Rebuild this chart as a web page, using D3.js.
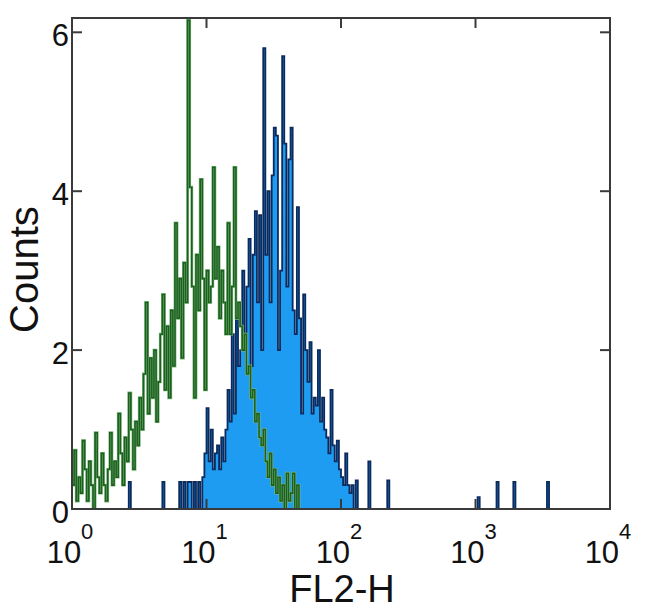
<!DOCTYPE html>
<html>
<head>
<meta charset="utf-8">
<script src="https://cdn.jsdelivr.net/npm/d3@7"></script>
<style>
  body { margin: 0; background: #fff; }
  svg text { font-family: "Liberation Sans", Arial, sans-serif; fill: #111; }
</style>
</head>
<body>
<div id="chart"></div>
<script>
// histogram channels: 64 per decade (256 over four decades), FL2-H from 10^0 to 10^4
var binsPerDecade = 64;
var xTicks = [0, 1, 2, 3, 4];          // exponents of 10
var yTicks = [0, 2, 4, 6];

// control (green), channels 0..108
var greenCounts = [
  0.3, 0.74, 0.1, 0.4, 0.2, 0.86, 0.5, 0.1, 0.6, 0.3, 0.0, 0.96, 0.4, 0.2, 0.7, 0.3,
  0.1, 0.5, 0.96, 0.3, 0.6, 0.4, 1.2, 0.7, 0.3, 0.9, 0.6, 1.46, 1.0, 0.5, 1.1, 0.8,
  1.4, 1.0, 1.7, 2.6, 1.2, 1.9, 1.4, 2.0, 1.1, 1.6, 2.2, 2.7, 1.5, 2.3, 1.4, 2.5,
  1.8, 3.6, 2.4, 2.9, 1.9, 3.1, 2.6, 6.15, 4.05, 2.8, 1.4, 3.2, 2.5, 4.15, 2.9, 1.5,
  3.0, 2.6, 2.8, 4.3, 2.9, 3.3, 2.4, 3.0, 2.6, 2.2, 3.6, 2.2, 2.8, 4.3, 2.4, 2.6,
  2.3, 2.0, 2.2, 1.7, 1.8, 1.4, 1.5, 1.1, 1.2, 0.9, 0.8, 1.0, 0.6, 0.4, 0.7, 0.3,
  0.5, 0.2, 0.4, 0.1, 0.3, 0.0, 0.45, 0.1, 0.2, 0.45, 0.0, 0.3, 0
];

// stained sample (blue), channels 0..239
var blueCounts = [
  0, 0, 0, 0, 0, 0, 0, 0, 0, 0, 0, 0, 0, 0, 0, 0,
  0, 0, 0, 0, 0, 0, 0, 0, 0, 0, 0, 0.34, 0, 0, 0, 0,
  0, 0, 0, 0, 0, 0, 0, 0, 0, 0, 0, 0.34, 0, 0, 0, 0,
  0, 0, 0, 0.34, 0, 0.34, 0, 0.34, 0.34, 0, 0.34, 0, 0.34, 0, 0.4, 0.7,
  1.27, 0.6, 1.0, 0.5, 0.7, 0.8, 0.5, 0.9, 0.6, 1.0, 1.5, 1.1, 2.2, 1.2, 2.6, 1.8,
  2.0, 3.0, 2.1, 2.8, 3.4, 1.8, 3.2, 3.75, 2.6, 3.7, 2.0, 5.8, 3.2, 4.0, 2.6, 4.2,
  4.8, 4.7, 2.0, 3.0, 5.7, 4.6, 2.8, 4.4, 4.8, 2.5, 2.2, 3.8, 2.4, 1.2, 2.7, 2.0,
  1.6, 2.1, 1.2, 1.4, 1.3, 2.0, 1.1, 1.4, 1.0, 0.9, 0.7, 1.5, 0.8, 0.6, 0.86, 0.5,
  0.4, 0.3, 0.7, 0.3, 0.2, 0.3, 0, 0.36, 0, 0, 0, 0, 0, 0.6, 0, 0,
  0, 0, 0, 0, 0, 0, 0.36, 0, 0, 0, 0, 0, 0, 0, 0, 0,
  0, 0, 0, 0, 0, 0, 0, 0, 0, 0, 0, 0, 0, 0, 0, 0,
  0, 0, 0, 0, 0, 0, 0, 0, 0, 0, 0, 0, 0, 0, 0, 0,
  0, 0.15, 0, 0, 0, 0, 0, 0, 0, 0, 0.34, 0, 0, 0, 0, 0,
  0, 0, 0.34, 0, 0, 0, 0, 0, 0, 0, 0, 0, 0, 0, 0, 0,
  0, 0, 0.34, 0, 0, 0, 0, 0, 0, 0, 0, 0, 0, 0, 0, 0
];

var width = 650, height = 615;
var margin = {top: 18, right: 40, bottom: 106, left: 72};
var innerW = width - margin.left - margin.right;
var innerH = height - margin.top - margin.bottom;

var x = d3.scaleLog().domain([1, 1e4]).range([0, innerW]);
var y = d3.scaleLinear().domain([0, 6.18]).range([innerH, 0]);

// turn counts into step points (bin start, value), plus closing edge
function steps(counts) {
  var pts = counts.map(function (c, i) {
    return {x: Math.pow(10, i / binsPerDecade), y: c};
  });
  pts.push({x: Math.pow(10, counts.length / binsPerDecade), y: counts[counts.length - 1]});
  return pts;
}

var svg = d3.select('#chart').append('svg')
  .attr('width', width)
  .attr('height', height);

svg.append('defs').append('clipPath').attr('id', 'plotClip')
  .append('rect').attr('width', innerW).attr('height', innerH);

var g = svg.append('g').attr('transform', 'translate(' + margin.left + ',' + margin.top + ')');
var plot = g.append('g').attr('clip-path', 'url(#plotClip)');

// blue filled histogram
var area = d3.area()
  .curve(d3.curveStepAfter)
  .x(function (d) { return x(d.x); })
  .y0(y(0))
  .y1(function (d) { return y(d.y); });

plot.append('path')
  .datum(steps(blueCounts))
  .attr('d', area)
  .attr('fill', '#1e9cf2')
  .attr('stroke', '#0b2a5e')
  .attr('stroke-width', 1.8);

// green control line
var line = d3.line()
  .curve(d3.curveStepAfter)
  .x(function (d) { return x(d.x); })
  .y(function (d) { return y(d.y); });

var greenPts = steps(greenCounts);
plot.append('path')
  .datum(greenPts)
  .attr('d', line)
  .attr('fill', 'none')
  .attr('stroke', '#7fb87f')
  .attr('stroke-width', 2.8);
plot.append('path')
  .datum(greenPts)
  .attr('d', line)
  .attr('fill', 'none')
  .attr('stroke', '#1b601e')
  .attr('stroke-width', 1.6);

// frame
g.append('rect')
  .attr('width', innerW)
  .attr('height', innerH)
  .attr('fill', 'none')
  .attr('stroke', '#3a3a3a')
  .attr('stroke-width', 2);

// inward ticks on all four sides
var tickLen = 10;
xTicks.slice(1, -1).forEach(function (e) {
  var px = x(Math.pow(10, e));
  g.append('line').attr('x1', px).attr('x2', px).attr('y1', 0).attr('y2', tickLen)
    .attr('stroke', '#3a3a3a').attr('stroke-width', 2);
  g.append('line').attr('x1', px).attr('x2', px).attr('y1', innerH).attr('y2', innerH - tickLen)
    .attr('stroke', '#3a3a3a').attr('stroke-width', 2);
});
yTicks.slice(1).forEach(function (t) {
  var py = y(t);
  g.append('line').attr('x1', 0).attr('x2', tickLen).attr('y1', py).attr('y2', py)
    .attr('stroke', '#3a3a3a').attr('stroke-width', 2);
  g.append('line').attr('x1', innerW).attr('x2', innerW - tickLen).attr('y1', py).attr('y2', py)
    .attr('stroke', '#3a3a3a').attr('stroke-width', 2);
});

// y tick labels
yTicks.forEach(function (t) {
  g.append('text')
    .attr('x', -3)
    .attr('y', y(t) + 14)
    .attr('text-anchor', 'end')
    .attr('font-size', 31)
    .text(t);
});

// x tick labels 10^n
xTicks.forEach(function (e) {
  var lbl = g.append('text')
    .attr('x', x(Math.pow(10, e)) - 2)
    .attr('y', innerH + 54)
    .attr('text-anchor', 'middle')
    .attr('font-size', 31);
  lbl.append('tspan').text('10');
  lbl.append('tspan').attr('font-size', 22).attr('dy', -24).text(e);
});

// axis titles
g.append('text')
  .attr('x', innerW / 2 + 1)
  .attr('y', innerH + 93)
  .attr('text-anchor', 'middle')
  .attr('font-size', 38)
  .text('FL2-H');

g.append('text')
  .attr('transform', 'translate(-34,' + (innerH / 2 + 6) + ') rotate(-90)')
  .attr('text-anchor', 'middle')
  .attr('font-size', 40)
  .text('Counts');
</script>
</body>
</html>
